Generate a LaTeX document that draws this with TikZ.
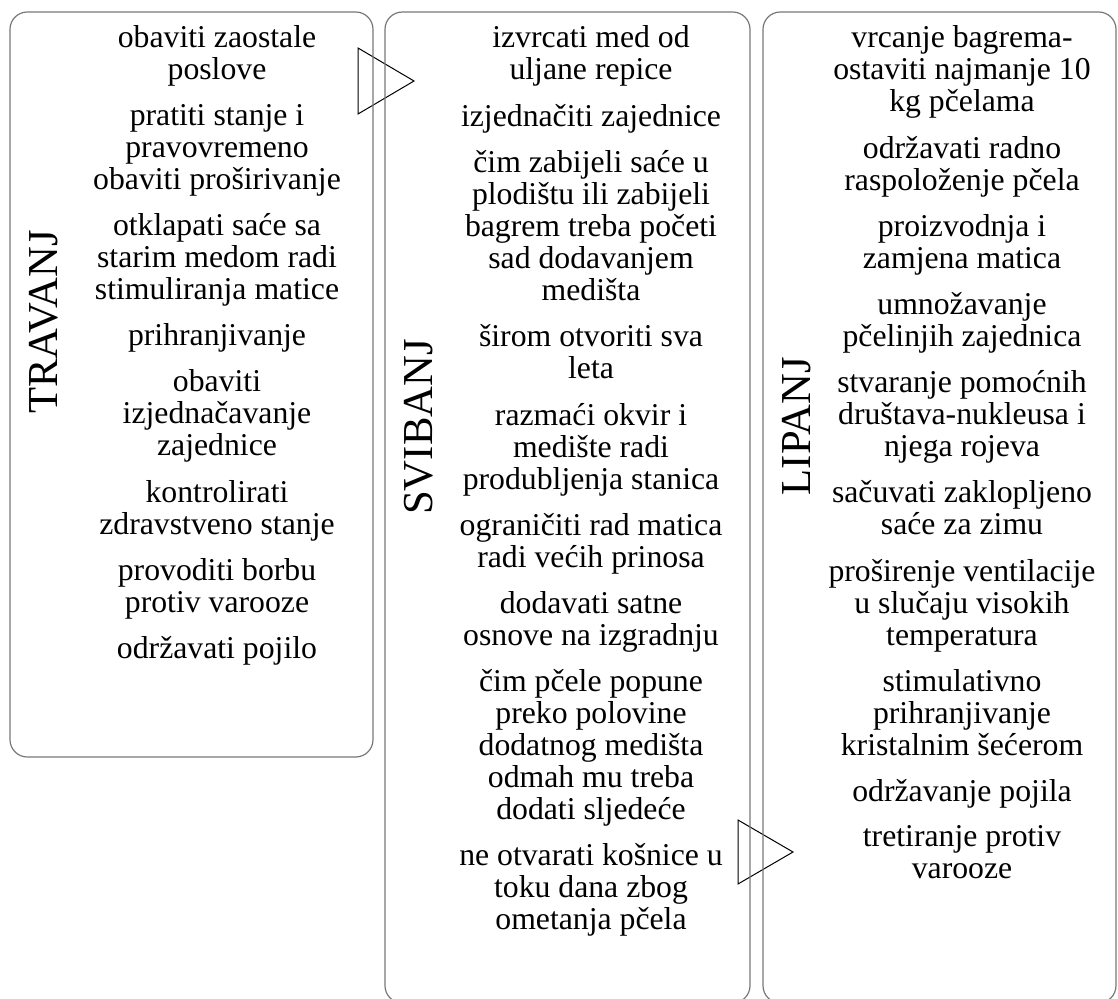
\documentclass[tikz,border=0pt]{standalone}
\usepackage{fontspec}
\setmainfont{Liberation Serif}
\usetikzlibrary{positioning}

\definecolor{boxgray}{RGB}{120,120,120}

\tikzset{
    month/.style={draw=boxgray, line width=0.9pt, rounded corners=13pt},
    task/.style={align=center, inner sep=0pt,
        font=\fontsize{23.8pt}{24pt}\selectfont,
        execute at begin node=\strut, execute at end node=\strut},
    title/.style={rotate=90, anchor=base, inner sep=0pt,
        font=\fontsize{32pt}{38pt}\selectfont},
    chevron/.style={draw=black, line width=0.75pt, fill=white}
}

\begin{document}
\begin{tikzpicture}[x=0.75pt, y=-0.75pt, node distance=10.5pt]
    \useasboundingbox (0,0) rectangle (1118,999);

    % Arrows between the months
    \draw[chevron] (358,48) -- (414,81) -- (358,114) -- cycle;
    \draw[chevron] (738,820) -- (793,852) -- (738,884) -- cycle;

    % Month boxes
    \draw[month] (10,12) rectangle (373,757);
    \draw[month] (385,12) rectangle (750,1003);
    \draw[month] (763,12) rectangle (1116,1003);

    % Month names
    \node[title] (travanj) at (57,322) {TRAVANJ};
    \node[title] (svibanj) at (432,427) {SVIBANJ};
    \node[title] (lipanj) at (810,426) {LIPANJ};

    % Travanj tasks
    \node[task, anchor=north] (t1) at (217,25.6) {obaviti zaostale\\poslove};
    \node[task, below=of t1] (t2) {pratiti stanje i\\pravovremeno\\obaviti proširivanje};
    \node[task, below=of t2] (t3) {otklapati saće sa\\starim medom radi\\stimuliranja matice};
    \node[task, below=of t3] (t4) {prihranjivanje};
    \node[task, below=of t4] (t5) {obaviti\\izjednačavanje\\zajednice};
    \node[task, below=of t5] (t6) {kontrolirati\\zdravstveno stanje};
    \node[task, below=of t6] (t7) {provoditi borbu\\protiv varooze};
    \node[task, below=of t7] (t8) {održavati pojilo};

    % Svibanj tasks
    \node[task, anchor=north] (s1) at (591,25.6) {izvrcati med od\\uljane repice};
    \node[task, below=of s1] (s2) {izjednačiti zajednice};
    \node[task, below=of s2] (s3) {čim zabijeli saće u\\plodištu ili zabijeli\\bagrem treba početi\\sad dodavanjem\\medišta};
    \node[task, below=of s3] (s4) {širom otvoriti sva\\leta};
    \node[task, below=of s4] (s5) {razmaći okvir i\\medište radi\\produbljenja stanica};
    \node[task, below=of s5] (s6) {ograničiti rad matica\\radi većih prinosa};
    \node[task, below=of s6] (s7) {dodavati satne\\osnove na izgradnju};
    \node[task, below=of s7] (s8) {čim pčele popune\\preko polovine\\dodatnog medišta\\odmah mu treba\\dodati sljedeće};
    \node[task, below=of s8] (s9) {ne otvarati košnice u\\toku dana zbog\\ometanja pčela};

    % Lipanj tasks
    \node[task, anchor=north] (l1) at (962,25.6) {vrcanje bagrema-\\ostaviti najmanje 10\\kg pčelama};
    \node[task, below=of l1] (l2) {održavati radno\\raspoloženje pčela};
    \node[task, below=of l2] (l3) {proizvodnja i\\zamjena matica};
    \node[task, below=of l3] (l4) {umnožavanje\\pčelinjih zajednica};
    \node[task, below=of l4] (l5) {stvaranje pomoćnih\\društava-nukleusa i\\njega rojeva};
    \node[task, below=of l5] (l6) {sačuvati zaklopljeno\\saće za zimu};
    \node[task, below=of l6] (l7) {proširenje ventilacije\\u slučaju visokih\\temperatura};
    \node[task, below=of l7] (l8) {stimulativno\\prihranjivanje\\kristalnim šećerom};
    \node[task, below=of l8] (l9) {održavanje pojila};
    \node[task, below=of l9] (l10) {tretiranje protiv\\varooze};
\end{tikzpicture}
\end{document}
